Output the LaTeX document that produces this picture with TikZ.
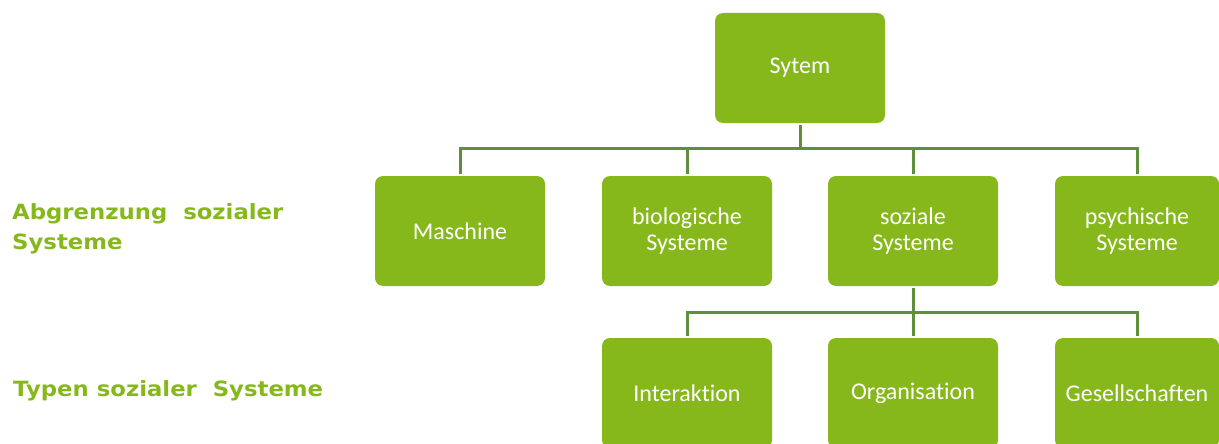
\documentclass[tikz,border=0pt]{standalone}
\usepackage{fontspec}
\setmainfont{Carlito}[Ligatures=NoCommon]
\newfontfamily\headfont{DejaVu Sans}
\definecolor{boxgreen}{HTML}{86B81C}
\definecolor{linegreen}{HTML}{5E8E3E}
\tikzset{
  sysbox/.style={fill=boxgreen, text=white, rounded corners=8pt, minimum width=170, minimum height=110,
    align=center, font=\fontsize{24}{26}\selectfont, inner sep=2pt, outer sep=2pt},
  conn/.style={draw=linegreen, line width=3pt},
  rowlabel/.style={anchor=west, align=left, text=boxgreen, inner sep=0pt, xscale=1.085,
    font=\headfont\bfseries\fontsize{21}{30}\selectfont}
}
\begin{document}
\begin{tikzpicture}[x=1pt,y=-1pt]
\useasboundingbox (0,0) rectangle (1219,444);

% boxes
\node[sysbox] (sys) at (800,68) {Sytem};
\node[sysbox] (mas) at (460,231) {Maschine};
\node[sysbox] (bio) at (687,231) {biologische\\Systeme};
\node[sysbox] (soz) at (913,231) {soziale\\Systeme};
\node[sysbox, minimum width=164] (psy) at (1137,231) {psychische\\Systeme};
\node[sysbox] (int) at (687,393) {Interaktion};
\node[sysbox] (org) at (913,393) {Organisation};
\node[sysbox, minimum width=164] (ges) at (1137,393) {Gesellschaften};

% connectors
\coordinate (bus1) at (800,148);
\coordinate (bus2) at (913,312);
\draw[conn] (sys.south) -- (bus1);
\draw[conn] (bus1) -| (mas.north);
\draw[conn] (bus1) -| (bio.north);
\draw[conn] (bus1) -| (soz.north);
\draw[conn] (bus1) -| (psy.north);
\draw[conn] (soz.south) -- (bus2);
\draw[conn] (bus2) -| (int.north);
\draw[conn] (bus2) -- (org.north);
\draw[conn] (bus2) -| (ges.north);

% row labels
\node[rowlabel] (lab1) at (12,229) {Abgrenzung\ \ sozialer\\Systeme};
\node[rowlabel] (lab2) at (13,391) {Typen sozialer\ \ Systeme};
\end{tikzpicture}
\end{document}
